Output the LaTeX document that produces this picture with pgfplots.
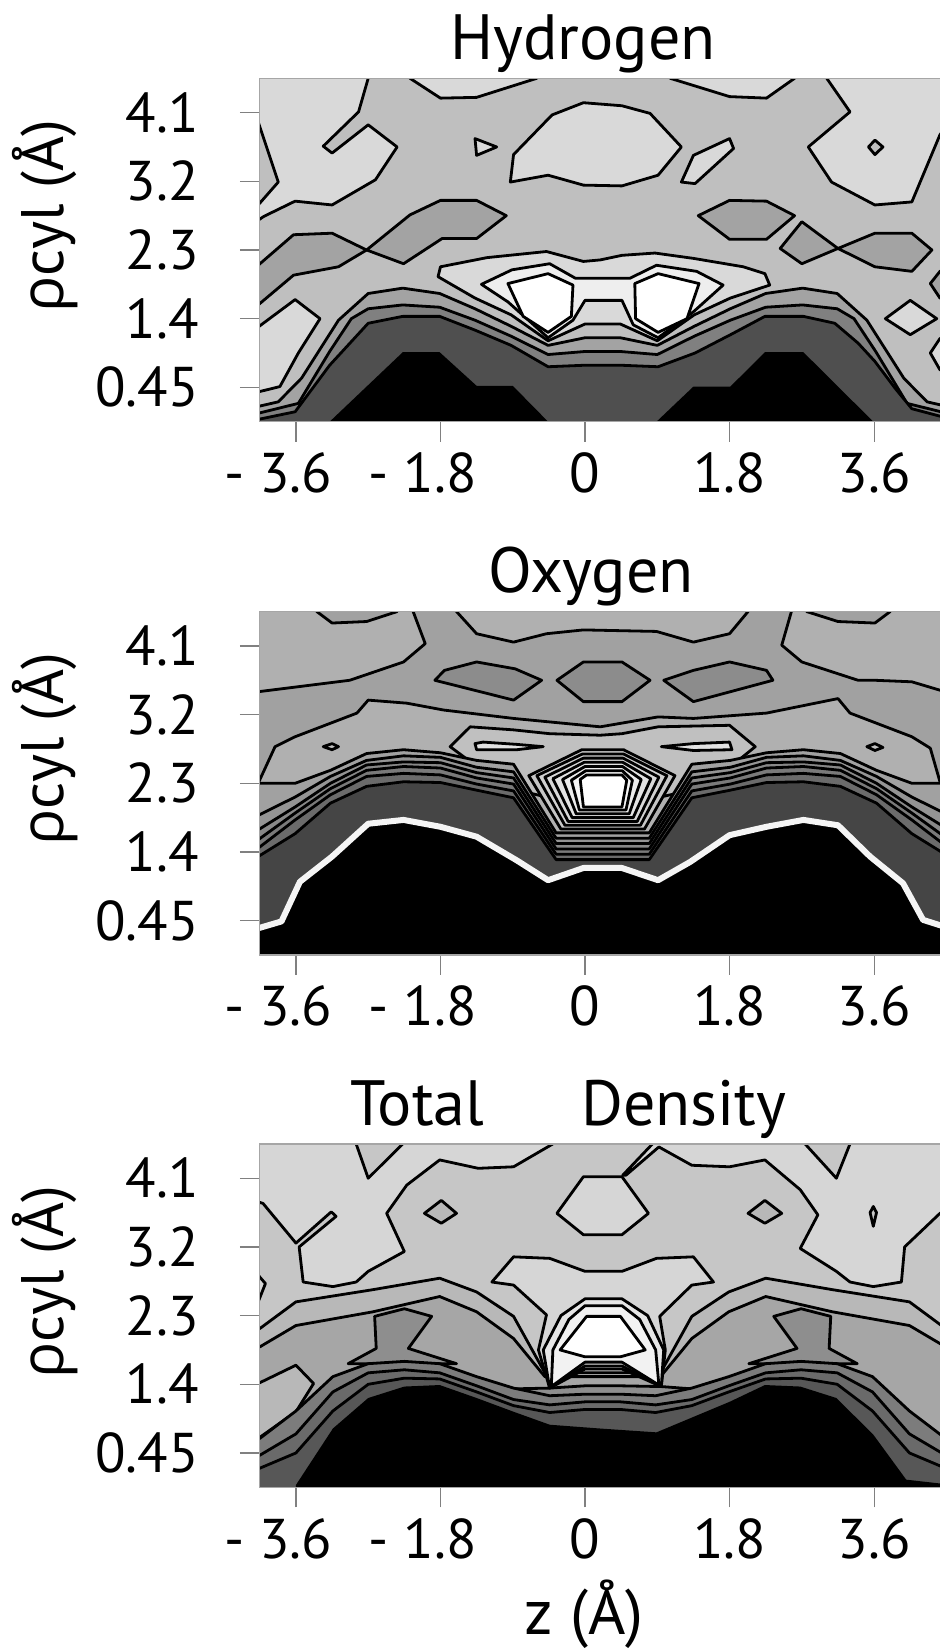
\documentclass[border=0pt]{standalone}
\usepackage{pgfplots}
\pgfplotsset{compat=1.18}
\usepackage{fontspec}
\setmainfont{PT Sans}
\newfontfamily\grk{Open Sans}
\definecolor{h1}{HTML}{4F4F4F}
\definecolor{h2}{HTML}{808080}
\definecolor{h3}{HTML}{A3A3A3}
\definecolor{h4}{HTML}{BFBFBF}
\definecolor{h5}{HTML}{D9D9D9}
\definecolor{h6}{HTML}{EEEEEE}
\definecolor{o3}{HTML}{8C8C8C}
\definecolor{o4}{HTML}{A1A1A1}
\definecolor{o5}{HTML}{B0B0B0}
\definecolor{o6}{HTML}{C0C0C0}
\definecolor{o7}{HTML}{E2E2E2}
\definecolor{ob2}{HTML}{949494}
\definecolor{ob3}{HTML}{888888}
\definecolor{ob4}{HTML}{7A7A7A}
\definecolor{ob5}{HTML}{6B6B6B}
\definecolor{ob6}{HTML}{454545}
\definecolor{t1}{HTML}{8E8E8E}
\definecolor{t2}{HTML}{A6A6A6}
\definecolor{t3}{HTML}{B8B8B8}
\definecolor{t4}{HTML}{C6C6C6}
\definecolor{t5}{HTML}{D6D6D6}
\definecolor{t6}{HTML}{E6E6E6}
\definecolor{t7}{HTML}{F2F2F2}
\definecolor{ta}{HTML}{7C7C7C}
\definecolor{tb}{HTML}{6A6A6A}
\definecolor{tc}{HTML}{575757}
\tikzset{ct/.style={draw=black,line width=1.4pt,line join=round}}
\newcommand{\tf}{\fontsize{28pt}{30pt}\selectfont}
\newcommand{\ttl}{\fontsize{32pt}{34pt}\selectfont}
\pgfplotsset{cax/.style 2 args={
  at={(129.9pt,#1)}, anchor=south west, scale only axis,
  width=347.3pt, height=171.7pt,
  xmin=-4.05, xmax=4.6, ymin=0, ymax=4.5,
  xtick={-3.6,-1.8,0,1.8,3.6},
  xticklabels={\llap{- }3.6,\llap{- }1.8,0,1.8,3.6},
  ytick={0.45,1.35,2.25,3.15,4.05},
  yticklabels={0.45,1.4,2.3,3.2,4.1},
  tick pos=left,
  tick align=outside, major tick length=10pt,
  tick style={gray,line width=0.6pt},
  axis line style={gray!70,line width=0.6pt},
  ticklabel style={font=\tf},
  xticklabel style={yshift=-2pt},
  yticklabel style={xshift=-17pt},
  axis on top, clip=true,
  axis background/.style={fill=#2}}}
\begin{document}
\begin{tikzpicture}
%================ HYDROGEN =================
\begin{axis}[cax={614.15pt}{h4}]
\addplot[ct,fill=h5] coordinates {(-4.3,4.7)(-2.70,4.7)(-2.70,4.5)(-2.82,4.06)(-3.26,3.61)(-3.15,3.52)(-2.70,3.89)(-2.34,3.60)(-2.61,3.17)(-3.15,2.84)(-3.61,2.89)(-4.0,2.69)(-4.07,2.64)(-4.3,2.6)} -- cycle;
\addplot[ct,fill=h4] coordinates {(-4.3,3.95)(-4.07,3.93)(-3.82,3.14)(-4.07,2.84)(-4.3,2.84)} -- cycle;
\addplot[ct,fill=h5] coordinates {(-2.18,4.7)(-2.18,4.5)(-1.80,4.24)(-1.35,4.25)(-0.60,4.5)(-0.60,4.7)} -- cycle;
\addplot[ct,fill=h5] coordinates {(1.06,4.7)(1.06,4.5)(1.80,4.26)(2.26,4.24)(2.61,4.5)(2.61,4.7)} -- cycle;
\addplot[ct,fill=h5] coordinates {(3.01,4.7)(3.01,4.5)(3.30,4.06)(2.78,3.60)(3.07,3.14)(3.61,2.84)(4.07,2.88)(4.42,3.76)(4.8,4.3)(4.8,4.7)} -- cycle;
\addplot[ct,fill=h4] coordinates {(3.53,3.60)(3.61,3.69)(3.71,3.60)(3.61,3.50)} -- cycle;
\addplot[ct,fill=h5] coordinates {(-0.93,3.14)(-0.89,3.50)(-0.41,4.02)(-0.02,4.18)(0.46,4.14)(0.81,4.04)(1.20,3.60)(0.91,3.23)(0.46,3.09)(-0.02,3.10)(-0.46,3.23)} -- cycle;
\addplot[ct,fill=h5] coordinates {(-1.37,3.71)(-1.10,3.60)(-1.35,3.49)} -- cycle;
\addplot[ct,fill=h5] coordinates {(1.20,3.14)(1.35,3.49)(1.80,3.71)(1.85,3.58)(1.37,3.12)} -- cycle;
\addplot[ct,fill=h3] coordinates {(-4.3,2.1)(-4.07,2.05)(-3.63,2.45)(-3.15,2.47)(-2.72,2.25)(-3.07,2.03)(-3.63,1.92)(-4.07,1.53)(-4.3,1.45)} -- cycle;
\addplot[ct,fill=h3] coordinates {(-2.72,2.25)(-2.18,2.71)(-1.80,2.90)(-1.35,2.90)(-0.98,2.70)(-1.35,2.40)(-1.78,2.40)(-2.26,2.07)} -- cycle;
\addplot[ct,fill=h3] coordinates {(1.41,2.70)(1.80,2.90)(2.26,2.89)(2.61,2.70)(2.26,2.39)(1.80,2.39)} -- cycle;
\addplot[ct,fill=h3] coordinates {(2.43,2.27)(2.70,2.62)(3.15,2.27)(2.70,2.07)} -- cycle;
\addplot[ct,fill=h3] coordinates {(3.15,2.27)(3.61,2.47)(4.07,2.47)(4.32,2.25)(4.07,1.97)(3.61,2.03)} -- cycle;
\addplot[ct,fill=h3] coordinates {(4.8,2.05)(4.42,1.97)(4.30,1.81)(4.42,1.62)(4.8,1.55)} -- cycle;
\addplot[ct,fill=h5] coordinates {(-4.3,1.24)(-4.07,1.24)(-3.61,1.60)(-3.30,1.35)(-3.57,0.90)(-3.80,0.46)(-4.07,0.39)(-4.3,0.39)} -- cycle;
% bands
\addplot[ct,fill=h3] coordinates {(-4.3,0.20)(-4.07,0.20)(-3.82,0.26)(-3.53,0.57)(-3.07,1.33)(-2.70,1.68)(-2.27,1.75)(-1.81,1.68)(-1.37,1.48)(-0.92,1.25)(-0.46,1.00)(0.0,1.10)(0.44,1.10)(0.90,1.00)(1.36,1.25)(1.81,1.48)(2.25,1.68)(2.71,1.75)(3.14,1.68)(3.51,1.33)(3.97,0.57)(4.26,0.26)(4.51,0.20)(4.8,0.20)(4.8,-0.2)(-4.3,-0.2)} -- cycle;
\addplot[ct,fill=h2] coordinates {(-4.3,0.11)(-4.07,0.11)(-3.57,0.24)(-3.18,0.92)(-2.91,1.35)(-2.70,1.48)(-2.27,1.53)(-1.81,1.50)(-1.37,1.33)(-0.92,1.12)(-0.46,0.88)(0.0,0.92)(0.44,0.92)(0.90,0.88)(1.36,1.12)(1.81,1.33)(2.25,1.50)(2.71,1.53)(3.14,1.48)(3.35,1.35)(3.62,0.92)(4.01,0.24)(4.51,0.11)(4.8,0.11)(4.8,-0.2)(-4.3,-0.2)} -- cycle;
\addplot[ct,fill=h1] coordinates {(-4.3,0.03)(-4.07,0.03)(-3.61,0.13)(-3.18,0.74)(-2.70,1.29)(-2.27,1.38)(-1.81,1.38)(-1.37,1.20)(-0.92,1.0)(-0.46,0.72)(0.0,0.74)(0.44,0.74)(0.91,0.72)(1.37,0.90)(1.83,1.15)(2.24,1.38)(2.72,1.38)(3.11,1.29)(3.40,1.03)(3.61,0.79)(3.86,0.44)(4.07,0.17)(4.5,0.05)(4.8,0.03)(4.8,-0.2)(-4.3,-0.2)} -- cycle;
\addplot[fill=black,draw=none] coordinates {(-3.18,-0.1)(-3.18,0)(-2.27,0.91)(-1.81,0.91)(-1.35,0.47)(-0.90,0.47)(-0.46,0)(-0.46,-0.1)} -- cycle;
\addplot[fill=black,draw=none] coordinates {(0.89,-0.1)(0.89,0)(1.35,0.46)(1.81,0.46)(2.24,0.91)(2.72,0.91)(3.59,0)(3.59,-0.1)} -- cycle;
\addplot[ct,fill=h5] coordinates {(3.74,1.35)(4.05,1.59)(4.38,1.35)(4.05,1.14)} -- cycle;
\addplot[ct,fill=h5] coordinates {(4.8,1.15)(4.42,1.09)(4.30,0.90)(4.42,0.68)(4.8,0.6)} -- cycle;
% centre
\addplot[ct,fill=h5] coordinates {(-1.83,1.90)(-1.80,2.03)(-1.22,2.15)(-0.48,2.23)(-0.02,2.10)(0.19,2.12)(0.46,2.18)(0.87,2.21)(1.35,2.14)(1.97,2.03)(2.24,1.94)(2.30,1.79)(1.81,1.62)(1.36,1.40)(0.90,1.06)(0.44,1.28)(0.0,1.28)(-0.46,1.06)(-0.92,1.40)(-1.37,1.62)} -- cycle;
\addplot[ct,fill=h6] coordinates {(-1.29,1.80)(-0.91,1.99)(-0.44,2.07)(-0.12,1.88)(0.19,1.88)(0.56,1.88)(0.89,2.05)(1.39,1.97)(1.72,1.79)(1.35,1.44)(0.91,1.10)(0.60,1.27)(0.46,1.59)(0.0,1.59)(-0.15,1.33)(-0.46,1.10)(-0.96,1.57)} -- cycle;
\addplot[ct,fill=white] coordinates {(-0.96,1.81)(-0.46,1.94)(-0.15,1.79)(-0.17,1.38)(-0.46,1.17)(-0.77,1.38)} -- cycle;
\addplot[ct,fill=white] coordinates {(0.62,1.81)(0.91,1.94)(1.42,1.81)(1.27,1.35)(0.91,1.17)(0.63,1.35)} -- cycle;
\end{axis}
%================ OXYGEN =================
\begin{axis}[cax={347.5pt}{o4}]
\addplot[ct,fill=o5] coordinates {(-4.3,4.7)(-4.3,3.45)(-4.07,3.45)(-2.93,3.60)(-2.26,3.84)(-1.99,4.08)(-2.14,4.5)(-2.14,4.7)} -- cycle;
\addplot[ct,fill=o4] coordinates {(-3.34,4.7)(-3.34,4.5)(-3.15,4.35)(-2.72,4.37)(-2.34,4.5)(-2.34,4.7)} -- cycle;
\addplot[ct,fill=o5] coordinates {(-1.60,4.7)(-1.60,4.5)(-1.35,4.21)(-0.89,4.10)(-0.48,4.21)(-0.02,4.26)(0.89,4.24)(1.35,4.10)(1.80,4.21)(2.03,4.5)(2.03,4.7)} -- cycle;
\addplot[ct,fill=o5] coordinates {(2.57,4.7)(2.57,4.5)(2.45,4.06)(2.70,3.84)(3.40,3.60)(3.61,3.60)(4.07,3.58)(4.42,3.47)(4.8,3.4)(4.8,4.7)} -- cycle;
\addplot[ct,fill=o4] coordinates {(2.76,4.7)(2.76,4.5)(3.15,4.37)(3.61,4.35)(3.80,4.5)(3.80,4.7)} -- cycle;
\addplot[ct,fill=o3] coordinates {(-1.87,3.60)(-1.75,3.73)(-1.35,3.84)(-0.87,3.75)(-0.54,3.60)(-0.89,3.34)} -- cycle;
\addplot[ct,fill=o3] coordinates {(-0.35,3.60)(-0.02,3.84)(0.46,3.84)(0.81,3.60)(0.46,3.32)(-0.02,3.32)} -- cycle;
\addplot[ct,fill=o3] coordinates {(0.98,3.60)(1.35,3.73)(1.80,3.84)(2.26,3.73)(2.34,3.60)(1.35,3.32)} -- cycle;
\addplot[ct,fill=o5] coordinates {(-4.3,2.25)(-4.07,2.25)(-3.86,2.73)(-3.61,2.86)(-2.84,3.17)(-2.70,3.34)(-2.22,3.30)(-1.76,3.21)(-0.89,3.10)(0.19,2.99)(0.91,3.12)(1.35,3.10)(2.26,3.17)(3.15,3.36)(3.30,3.17)(4.07,2.86)(4.30,2.71)(4.42,2.27)(4.6,2.0)(4.8,2.0)(4.8,-0.2)(-4.3,-0.2)} -- cycle;
\addplot[ct,fill=o6] coordinates {(-3.26,2.73)(-3.15,2.77)(-3.07,2.73)(-3.15,2.69)} -- cycle;
\addplot[ct,fill=o6] coordinates {(3.51,2.73)(3.61,2.77)(3.71,2.72)(3.61,2.68)} -- cycle;
\addplot[ct,fill=o6] coordinates {(-1.68,2.73)(-1.43,2.99)(-0.89,2.95)(-0.44,2.90)(0.19,2.88)(0.46,2.90)(0.91,2.99)(1.80,3.01)(2.12,2.73)(1.5,2.2)(0.2,1.9)(-1.0,2.2)} -- cycle;
\addplot[ct,fill=o7] coordinates {(-1.37,2.77)(-1.27,2.79)(-0.85,2.76)(-0.52,2.73)(-0.85,2.69)(-1.35,2.69)} -- cycle;
\addplot[ct,fill=o7] coordinates {(0.95,2.73)(1.35,2.77)(1.80,2.79)(1.83,2.69)(1.35,2.68)} -- cycle;
% bands
\addplot[ct,fill=o4] coordinates {(-4.3,2.25)(-4.07,2.25)(-3.61,2.25)(-3.17,2.42)(-2.72,2.64)(-2.26,2.69)(-1.80,2.65)(-1.35,2.55)(-0.89,2.50)(-0.36,1.60)(0.80,1.60)(1.33,2.50)(1.81,2.55)(2.26,2.65)(2.72,2.69)(3.18,2.64)(3.63,2.42)(4.07,2.25)(4.53,2.25)(4.8,2.25)(4.8,-0.2)(-4.3,-0.2)} -- cycle;
\addplot[ct,fill=ob2] coordinates {(-4.3,1.83)(-4.07,1.83)(-3.61,2.07)(-3.17,2.34)(-2.72,2.55)(-2.26,2.61)(-1.80,2.59)(-1.35,2.46)(-0.89,2.40)(-0.36,1.53)(0.80,1.53)(1.33,2.40)(1.81,2.46)(2.26,2.59)(2.72,2.61)(3.18,2.55)(3.63,2.34)(4.07,2.07)(4.53,1.83)(4.8,1.83)(4.8,-0.2)(-4.3,-0.2)} -- cycle;
\addplot[ct,fill=ob3] coordinates {(-4.3,1.64)(-4.07,1.64)(-3.61,1.94)(-3.17,2.25)(-2.72,2.49)(-2.26,2.53)(-1.80,2.52)(-1.35,2.39)(-0.89,2.32)(-0.36,1.46)(0.80,1.46)(1.33,2.32)(1.81,2.39)(2.26,2.52)(2.72,2.53)(3.18,2.49)(3.63,2.25)(4.07,1.94)(4.53,1.64)(4.8,1.64)(4.8,-0.2)(-4.3,-0.2)} -- cycle;
\addplot[ct,fill=ob4] coordinates {(-4.3,1.51)(-4.07,1.51)(-3.61,1.86)(-3.17,2.18)(-2.72,2.42)(-2.26,2.47)(-1.80,2.45)(-1.35,2.32)(-0.89,2.24)(-0.36,1.39)(0.80,1.39)(1.33,2.24)(1.81,2.32)(2.26,2.45)(2.72,2.47)(3.18,2.42)(3.63,2.18)(4.07,1.86)(4.53,1.51)(4.8,1.51)(4.8,-0.2)(-4.3,-0.2)} -- cycle;
\addplot[ct,fill=ob5] coordinates {(-4.3,1.40)(-4.07,1.40)(-3.61,1.77)(-3.17,2.10)(-2.72,2.34)(-2.26,2.38)(-1.80,2.36)(-1.35,2.24)(-0.89,2.15)(-0.36,1.32)(0.80,1.32)(1.33,2.15)(1.81,2.24)(2.26,2.36)(2.72,2.38)(3.18,2.34)(3.63,2.10)(4.07,1.77)(4.53,1.40)(4.8,1.40)(4.8,-0.2)(-4.3,-0.2)} -- cycle;
\addplot[ct,fill=ob6] coordinates {(-4.3,1.29)(-4.07,1.29)(-3.61,1.59)(-3.17,1.99)(-2.72,2.21)(-2.26,2.27)(-1.80,2.26)(-1.35,2.16)(-0.89,2.06)(-0.36,1.25)(0.80,1.25)(1.33,2.06)(1.81,2.16)(2.26,2.26)(2.72,2.27)(3.18,2.21)(3.63,1.99)(4.07,1.59)(4.53,1.29)(4.8,1.29)(4.8,-0.2)(-4.3,-0.2)} -- cycle;
% rings
\addplot[ct,fill=o6!90!white] coordinates {(-0.04,2.69)(0.48,2.69)(1.12,2.35)(0.74,1.65)(-0.30,1.65)(-0.70,2.35)} -- cycle;
\addplot[ct,fill=o6!75!white] coordinates {(-0.03,2.635)(0.477,2.635)(1.02,2.35)(0.69,1.70)(-0.25,1.70)(-0.60,2.35)} -- cycle;
\addplot[ct,fill=o6!60!white] coordinates {(-0.02,2.58)(0.473,2.58)(0.92,2.33)(0.65,1.75)(-0.21,1.75)(-0.50,2.33)} -- cycle;
\addplot[ct,fill=o6!45!white] coordinates {(-0.01,2.525)(0.47,2.525)(0.82,2.31)(0.60,1.80)(-0.16,1.80)(-0.40,2.31)} -- cycle;
\addplot[ct,fill=o6!30!white] coordinates {(0.0,2.47)(0.467,2.47)(0.70,2.30)(0.55,1.85)(-0.11,1.85)(-0.28,2.30)} -- cycle;
\addplot[ct,fill=o6!15!white] coordinates {(0.01,2.415)(0.463,2.415)(0.59,2.29)(0.51,1.90)(-0.07,1.90)(-0.17,2.29)} -- cycle;
\addplot[ct,fill=white] coordinates {(0.02,2.36)(0.46,2.36)(0.52,2.29)(0.46,1.94)(-0.02,1.94)(-0.06,2.30)} -- cycle;
% black + white line
\addplot[fill=black,draw=none] coordinates {(-4.3,0.30)(-4.07,0.35)(-3.78,0.44)(-3.55,0.96)(-3.15,1.29)(-2.70,1.72)(-2.26,1.77)(-1.80,1.68)(-1.35,1.55)(-0.85,1.24)(-0.46,0.98)(-0.02,1.14)(0.46,1.14)(0.91,0.98)(1.31,1.22)(1.80,1.57)(2.26,1.68)(2.72,1.77)(3.15,1.70)(3.55,1.29)(3.96,0.94)(4.21,0.46)(4.42,0.39)(4.8,0.3)(4.8,-0.2)(-4.3,-0.2)} -- cycle;
\addplot[draw=black!4,line width=3pt,line join=round] coordinates {(-4.3,0.30)(-4.07,0.35)(-3.78,0.44)(-3.55,0.96)(-3.15,1.29)(-2.70,1.72)(-2.26,1.77)(-1.80,1.68)(-1.35,1.55)(-0.85,1.24)(-0.46,0.98)(-0.02,1.14)(0.46,1.14)(0.91,0.98)(1.31,1.22)(1.80,1.57)(2.26,1.68)(2.72,1.77)(3.15,1.70)(3.55,1.29)(3.96,0.94)(4.21,0.46)(4.42,0.39)(4.8,0.3)};
\end{axis}
%================ TOTAL =================
\begin{axis}[cax={81.35pt}{t4}]
\addplot[ct,fill=t5] coordinates {(-4.3,4.7)(-2.85,4.7)(-2.85,4.5)(-2.70,4.05)(-2.27,4.5)(-2.27,4.7)(-0.40,4.7)(-0.40,4.5)(-0.89,4.20)(-1.33,4.18)(-1.81,4.29)(-2.22,3.96)(-2.47,3.59)(-2.25,3.09)(-2.70,2.83)(-2.85,2.69)(-3.14,2.63)(-3.51,2.69)(-3.56,3.15)(-3.10,3.55)(-3.16,3.61)(-3.60,3.20)(-4.01,3.72)(-4.07,3.74)(-4.3,3.75)} -- cycle;
\addplot[ct,fill=t5] coordinates {(-4.3,2.8)(-4.07,2.78)(-3.98,2.67)(-4.07,2.43)(-4.3,2.43)} -- cycle;
\addplot[ct,fill=t3] coordinates {(-2.0,3.59)(-1.79,3.76)(-1.60,3.59)(-1.79,3.46)} -- cycle;
\addplot[ct,fill=t5] coordinates {(-0.35,3.59)(-0.02,4.07)(0.46,4.07)(0.79,3.59)(0.46,3.31)(-0.02,3.31)} -- cycle;
\addplot[ct,fill=t5] coordinates {(0.84,4.7)(0.84,4.5)(0.47,4.09)(0.51,4.09)(0.92,4.46)(1.33,4.22)(1.80,4.20)(2.24,4.29)(2.68,3.90)(2.90,3.57)(2.68,3.13)(3.13,2.83)(3.30,2.69)(3.59,2.63)(3.94,2.69)(3.98,3.15)(4.42,3.59)(4.8,3.8)(4.8,4.7)} -- cycle;
\addplot[ct,fill=t4] coordinates {(2.74,4.7)(2.74,4.5)(3.13,4.05)(3.30,4.5)(3.30,4.7)} -- cycle;
\addplot[ct,fill=t3] coordinates {(2.03,3.59)(2.24,3.76)(2.45,3.59)(2.24,3.46)} -- cycle;
\addplot[ct,fill=t4] coordinates {(3.55,3.6)(3.59,3.68)(3.63,3.6)(3.59,3.42)} -- cycle;
% bands
\addplot[ct,fill=t3] coordinates {(-4.3,2.08)(-4.05,2.08)(-3.60,2.43)(-2.64,2.59)(-1.81,2.74)(-1.35,2.56)(-0.89,2.24)(-0.50,1.50)(0.94,1.50)(1.33,2.24)(1.79,2.56)(2.25,2.74)(3.08,2.59)(4.04,2.43)(4.49,2.08)(4.8,2.08)(4.8,-0.2)(-4.3,-0.2)} -- cycle;
\addplot[ct,fill=t2] coordinates {(-4.3,1.84)(-4.05,1.84)(-3.60,2.12)(-2.64,2.30)(-1.81,2.50)(-1.35,2.30)(-0.89,1.95)(-0.50,1.45)(0.94,1.45)(1.33,1.95)(1.79,2.30)(2.25,2.50)(3.08,2.30)(4.04,2.12)(4.49,1.84)(4.8,1.84)(4.8,-0.2)(-4.3,-0.2)} -- cycle;
\addplot[ct,fill=t3] coordinates {(-4.3,1.36)(-4.07,1.36)(-3.60,1.60)(-3.38,1.36)(-3.60,0.99)(-4.07,0.64)(-4.3,0.64)} -- cycle;
\addplot[ct,fill=t1] coordinates {(-2.62,2.24)(-2.25,2.34)(-1.91,2.24)(-2.20,1.82)(-1.60,1.62)(-2.95,1.62)(-2.60,1.82)} -- cycle;
\addplot[ct,fill=t1] coordinates {(3.06,2.24)(2.69,2.34)(2.35,2.24)(2.64,1.82)(2.04,1.62)(3.39,1.62)(3.04,1.82)} -- cycle;
\addplot[ct,fill=t1] coordinates {(-0.89,1.29)(-0.44,1.30)(0.0,1.33)(0.44,1.33)(0.95,1.32)(1.33,1.29)(1.33,0.9)(-0.89,0.9)} -- cycle;
\addplot[ct,fill=ta] coordinates {(-4.3,0.64)(-4.05,0.64)(-3.60,1.00)(-3.14,1.45)(-2.70,1.62)(-2.25,1.65)(-1.81,1.62)(-1.35,1.45)(-0.89,1.30)(-0.44,1.20)(0.0,1.22)(0.44,1.22)(0.88,1.20)(1.33,1.30)(1.79,1.45)(2.25,1.62)(2.69,1.65)(3.14,1.62)(3.58,1.45)(4.04,1.00)(4.49,0.64)(4.8,0.64)(4.8,-0.2)(-4.3,-0.2)} -- cycle;
\addplot[ct,fill=tb] coordinates {(-4.3,0.42)(-4.05,0.42)(-3.60,0.70)(-3.14,1.25)(-2.70,1.50)(-2.25,1.54)(-1.81,1.50)(-1.35,1.33)(-0.89,1.15)(-0.44,1.08)(0.0,1.12)(0.44,1.12)(0.88,1.08)(1.33,1.15)(1.79,1.33)(2.25,1.50)(2.69,1.54)(3.14,1.50)(3.58,1.25)(4.04,0.70)(4.49,0.42)(4.8,0.42)(4.8,-0.2)(-4.3,-0.2)} -- cycle;
\addplot[ct,fill=tc] coordinates {(-4.3,0.25)(-4.05,0.25)(-3.60,0.45)(-3.14,1.00)(-2.70,1.35)(-2.25,1.43)(-1.81,1.42)(-1.35,1.25)(-0.89,1.07)(-0.44,0.98)(0.0,1.02)(0.44,1.02)(0.88,0.98)(1.33,1.07)(1.79,1.25)(2.25,1.42)(2.69,1.43)(3.14,1.35)(3.58,1.00)(4.04,0.45)(4.49,0.25)(4.8,0.25)(4.8,-0.2)(-4.3,-0.2)} -- cycle;
\addplot[fill=black,draw=none] coordinates {(-3.60,-0.2)(-3.60,0.03)(-3.14,0.77)(-2.70,1.17)(-2.25,1.32)(-1.81,1.34)(-1.35,1.17)(-0.89,0.99)(-0.44,0.82)(0.19,0.77)(0.89,0.72)(1.80,1.12)(2.24,1.34)(2.68,1.32)(3.13,1.17)(3.59,0.69)(4.0,0.10)(4.42,0.05)(4.8,0.0)(4.8,-0.2)} -- cycle;
% centre
\addplot[ct,fill=t5] coordinates {(-1.16,2.69)(-0.89,3.02)(-0.44,3.00)(0.0,2.83)(0.46,2.83)(0.89,3.00)(1.35,3.02)(1.60,2.69)(1.33,2.65)(0.93,2.24)(1.0,1.80)(0.95,1.32)(0.46,1.55)(0.0,1.55)(-0.44,1.30)(-0.58,1.80)(-0.48,2.26)(-0.89,2.65)} -- cycle;
\addplot[ct,fill=t6] coordinates {(-0.52,1.80)(-0.30,2.25)(0.0,2.47)(0.46,2.47)(0.78,2.25)(0.98,1.80)(0.95,1.32)(0.46,1.59)(0.0,1.59)(-0.44,1.30)} -- cycle;
\addplot[ct,fill=t7] coordinates {(-0.40,1.80)(-0.20,2.20)(0.0,2.38)(0.46,2.38)(0.68,2.20)(0.88,1.80)(0.92,1.34)(0.46,1.64)(0.0,1.64)(-0.42,1.32)} -- cycle;
\addplot[ct,fill=white] coordinates {(-0.31,1.80)(0.02,2.24)(0.44,2.24)(0.75,1.80)(0.44,1.71)(0.0,1.71)} -- cycle;
\end{axis}
% titles and labels
\node[anchor=base,font=\ttl] at (291.5pt,795pt) {Hydrogen};
\node[anchor=base,font=\ttl] at (295.5pt,528.5pt) {Oxygen};
\node[anchor=base,font=\ttl] at (208.6pt,262pt) {Total};
\node[anchor=base,font=\ttl] at (342pt,262pt) {Density};
\foreach \yy in {717pt,450.5pt,184pt}{
  \node[rotate=90,anchor=center,font=\fontsize{30pt}{32pt}\selectfont] at (22.5pt,\yy) {{\grk ρ}cyl (Å)};}
\node[anchor=base,font=\fontsize{32pt}{34pt}\selectfont] at (292pt,7.5pt) {z (Å)};
\pgfresetboundingbox
\useasboundingbox (0,0) rectangle (470pt,825pt);
\end{tikzpicture}
\end{document}
